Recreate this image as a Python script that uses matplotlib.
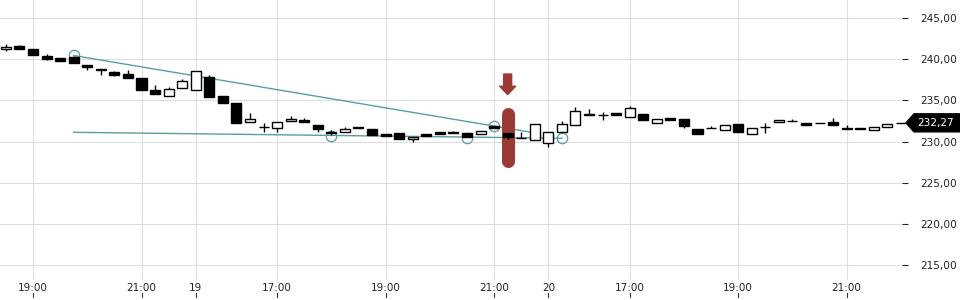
import numpy as np
import matplotlib
matplotlib.use("Agg")
import matplotlib.pyplot as plt
from matplotlib import font_manager
from matplotlib.patches import Polygon
from matplotlib.transforms import IdentityTransform

# 15-минутные свечи, три сессии
opens = [241.2, 241.6, 241.2, 240.4, 240.2, 240.3, 239.3, 238.8, 238.4, 238.2,
         237.7, 236.2, 235.5, 236.5, 236.3, 237.8, 235.5, 234.7, 232.4, 231.8,
         231.6, 232.5, 232.6, 232.0, 231.2, 231.1, 231.8, 231.5, 230.9, 231.0,
         230.3, 230.9, 231.1, 231.1, 231.0, 230.9, 231.9, 231.0, 230.4, 230.2,
         229.8, 231.1, 232.0, 233.4, 233.2, 233.5, 233.0, 233.3, 232.3, 232.8,
         232.7, 231.5, 231.7, 231.4, 232.1, 230.9, 231.8, 232.4, 232.5, 232.3,
         232.2, 232.4, 231.7, 231.6, 231.4, 231.8, 232.27]
highs = [241.8, 241.7, 241.2, 240.6, 240.2, 240.4, 239.3, 238.8, 238.6, 238.7,
         237.7, 236.9, 236.6, 237.6, 238.6, 238.1, 235.5, 234.7, 233.5, 232.3,
         232.4, 233.1, 232.8, 232.0, 231.4, 231.8, 231.8, 231.5, 230.9, 231.0,
         230.5, 230.9, 231.1, 231.3, 231.0, 231.3, 231.9, 231.0, 231.1, 232.1,
         231.2, 232.5, 234.2, 233.9, 233.6, 233.5, 234.3, 233.3, 232.7, 232.8,
         232.7, 231.5, 231.9, 232.0, 232.1, 231.6, 232.3, 232.6, 232.7, 232.3,
         232.2, 232.8, 232.0, 231.6, 231.8, 232.1, 232.27]
lows = [241.0, 241.2, 240.5, 239.9, 239.8, 239.5, 238.7, 238.1, 237.9, 237.7,
        236.3, 235.8, 235.5, 236.5, 236.3, 235.4, 234.7, 232.2, 232.4, 231.2,
        231.2, 232.5, 232.4, 231.2, 230.8, 231.1, 231.6, 230.8, 230.7, 230.3,
        230.0, 230.7, 230.9, 231.0, 230.6, 230.9, 231.7, 230.3, 230.4, 230.2,
        229.3, 231.1, 232.0, 233.2, 232.6, 233.2, 233.0, 232.6, 232.3, 232.6,
        231.7, 230.9, 231.6, 231.4, 231.1, 230.9, 231.0, 232.4, 232.5, 232.0,
        232.2, 232.0, 231.5, 231.5, 231.4, 231.8, 232.27]
closes = [241.5, 241.2, 240.5, 240.0, 239.8, 239.5, 239.1, 238.7, 238.1, 237.7,
          236.3, 235.8, 236.4, 237.3, 238.6, 235.4, 234.7, 232.2, 232.7, 231.8,
          232.4, 232.7, 232.4, 231.5, 231.0, 231.5, 231.6, 230.8, 230.7, 230.3,
          230.5, 230.7, 230.9, 231.0, 230.6, 231.3, 231.7, 230.5, 230.4, 232.1,
          231.2, 232.1, 233.7, 233.2, 233.2, 233.2, 234.1, 232.6, 232.7, 232.6,
          231.9, 230.9, 231.6, 232.0, 231.1, 231.6, 231.8, 232.6, 232.5, 232.0,
          232.2, 232.0, 231.5, 231.5, 231.8, 232.1, 232.27]

tick_pos = [2, 10, 14, 20, 28, 36, 40, 46, 54, 62]
tick_labels = ["19:00", "21:00", "19", "17:00", "19:00", "21:00", "20", "17:00", "19:00", "21:00"]
y_ticks = [215, 220, 225, 230, 235, 240, 245]

# линии тренда и отмеченные точки
upper_x = [5, 38.6]
upper_y = [240.45, 231.16]
lower_x = [5, 41]
lower_y = [231.12, 230.40]
circle_x = [5, 24, 34, 36, 41]
circle_y = [240.45, 230.72, 230.45, 231.88, 230.40]

# сигнал
signal_idx = 37
signal_range = [233.4, 227.6]
arrow_range = [238.2, 235.7]
last_price = closes[-1]

teal = "#5b9ea0"
red = "#9c3b35"

names = {f.name for f in font_manager.fontManager.ttflist}
xfont = "Liberation Sans Narrow" if "Liberation Sans Narrow" in names else "DejaVu Sans"

fig = plt.figure(figsize=(9.6, 3), dpi=100)
ax = fig.add_axes([0, 20 / 300, 902 / 960, 280 / 300])
ax.set_xlim(-0.435, 66.08)
ax.set_ylim(213.18, 247.19)

for s in ax.spines.values():
    s.set_visible(False)

ax.set_yticks(y_ticks)
ax.set_yticklabels([f"{v:.2f}".replace(".", ",") for v in y_ticks])
ax.yaxis.tick_right()
ax.tick_params(axis="y", length=4, width=0.8, pad=9, labelsize=7.6,
               colors="#222222")
ax.set_xticks(tick_pos)
ax.set_xticklabels(tick_labels, fontfamily=xfont)
ax.tick_params(axis="x", length=0, pad=2.5, labelsize=7.5, colors="#222222")
ax.grid(True, color="#dddddd", linewidth=0.75)
ax.set_axisbelow(True)

# засечки под подписями оси x
xt = ax.get_xaxis_transform()
for p in tick_pos:
    ax.plot([p, p], [-13 / 280, -17 / 280], transform=xt, color="#333333",
            lw=0.8, clip_on=False)

# тренды
ax.plot(upper_x, upper_y, color=teal, lw=1.0, zorder=2)
ax.plot(lower_x, lower_y, color=teal, lw=1.0, zorder=2)
ax.plot(circle_x, circle_y, "o", ms=7.5, mfc="none", mec=teal, mew=0.9,
        zorder=2, linestyle="none")

# красная метка
ax.plot([signal_idx, signal_idx], signal_range, color=red, lw=9.4,
        solid_capstyle="round", zorder=2.5)
ax.annotate("", xy=(signal_idx, arrow_range[1]), xytext=(signal_idx, arrow_range[0]),
            arrowprops=dict(arrowstyle="simple,head_length=0.6,head_width=1.15,tail_width=0.58",
                            color=red, shrinkA=0, shrinkB=0), zorder=3)

# свечи
idx = np.arange(len(opens))
o = np.array(opens)
c = np.array(closes)
up = c >= o
ax.vlines(idx, lows, highs, color="black", lw=1.0, zorder=3, clip_on=False)
bottoms = np.minimum(o, c)
heights = np.abs(c - o)
ax.bar(idx[up], heights[up], bottom=bottoms[up], width=0.74, color="white",
       edgecolor="black", linewidth=1.0, zorder=4, clip_on=False)
ax.bar(idx[~up], heights[~up], bottom=bottoms[~up], width=0.74, color="black",
       edgecolor="black", linewidth=1.0, zorder=4, clip_on=False)

# ярлык последней цены
fig.canvas.draw()
x0 = ax.transAxes.transform((1, 0))[0]
py = ax.transData.transform((0, last_price))[1]
tag = Polygon([[x0 + 4, py], [x0 + 12, py + 9], [960, py + 9], [960, py - 9],
               [x0 + 12, py - 9]], closed=True, transform=IdentityTransform(),
              color="black")
fig.add_artist(tag)
fig.text((x0 + 15) / 960, py / 300, f"{last_price:.2f}".replace(".", ","),
         color="white", fontsize=7.6, va="center", ha="left")

plt.savefig("out.png", dpi=100)
